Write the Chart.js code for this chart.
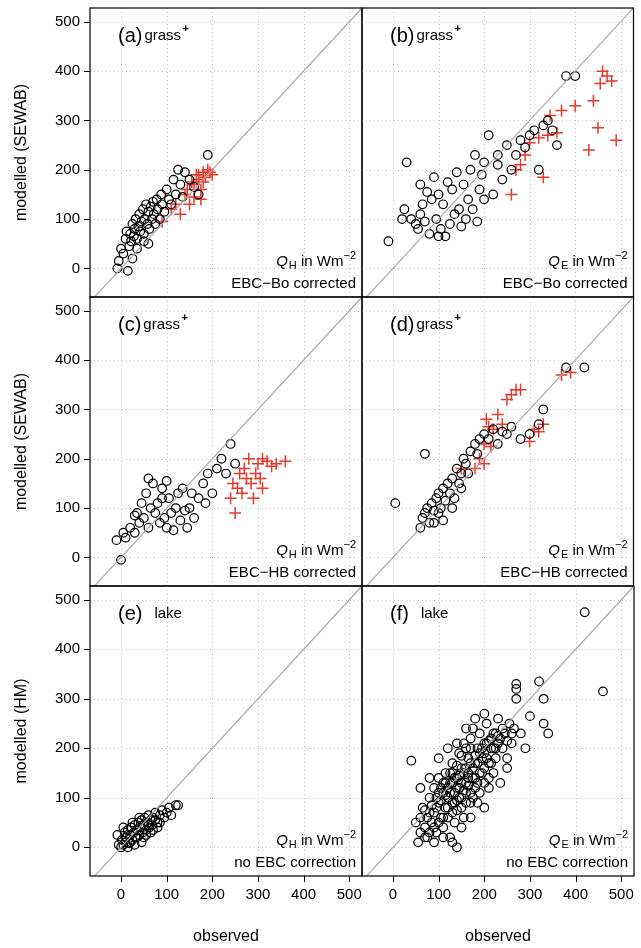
<!DOCTYPE html>
<html>
<head>
<meta charset="utf-8">
<script src="https://cdn.jsdelivr.net/npm/chart.js@4.4.1/dist/chart.umd.min.js"></script>
<style>
  body { margin: 0; background: #fff; }
  #wrap { position: relative; width: 641px; height: 948px; }
  canvas { position: absolute; left: 0; top: 0; }
</style>
</head>
<body>
<div id="wrap">
  <canvas id="pa"></canvas><canvas id="pb"></canvas>
  <canvas id="pc"></canvas><canvas id="pd"></canvas>
  <canvas id="pe"></canvas><canvas id="pf"></canvas>
</div>
<script>
// axis ticks
const tickValues = [0, 100, 200, 300, 400, 500];

// (a) grass+, QH, EBC-Bo
const aBlack = [[-5,15],[-8,0],[0,40],[5,30],[10,60],[12,75],[15,-5],[18,45],[20,70],[22,55],[25,90],[28,65],[30,80],[32,100],[35,60],[38,85],[40,110],[42,75],[45,95],[48,120],[50,70],[52,100],[55,130],[58,90],[60,115],[62,80],[65,125],[68,100],[70,135],[72,110],[75,90],[78,140],[80,120],[85,100],[88,150],[90,130],[95,115],[100,160],[105,140],[110,130],[115,180],[120,150],[125,200],[130,170],[135,145],[140,195],[150,180],[160,165],[170,150],[190,230],[60,50],[50,55],[35,40],[25,20]];
const aRed = [[90,95],[110,120],[120,130],[130,110],[140,150],[145,160],[150,130],[155,175],[160,145],[165,190],[170,180],[175,160],[180,195],[185,185],[190,200],[195,195],[200,190],[175,140],[160,170],[180,175],[170,190]];

// (b) grass+, QE, EBC-Bo
const bBlack = [[-10,55],[20,100],[25,120],[30,215],[40,100],[50,90],[55,80],[60,110],[65,130],[70,95],[75,155],[80,70],[85,140],[90,185],[95,100],[100,150],[105,80],[110,130],[115,65],[120,175],[125,90],[130,160],[135,110],[140,195],[145,120],[150,85],[155,170],[160,100],[165,140],[170,200],[175,120],[180,230],[185,95],[190,160],[195,190],[200,140],[210,270],[220,150],[230,210],[240,180],[250,250],[260,200],[270,230],[280,260],[290,245],[300,270],[310,280],[320,200],[330,290],[340,300],[350,280],[360,250],[380,390],[400,390],[230,230],[200,215],[100,65],[60,170]];
const bRed = [[260,150],[270,200],[280,210],[290,230],[300,255],[320,265],[330,185],[340,270],[345,310],[360,275],[370,320],[400,330],[430,240],[440,340],[450,285],[455,375],[470,390],[480,380],[490,260],[460,400]];

// (c) grass+, QH, EBC-HB
const cBlack = [[-10,35],[0,-5],[5,50],[10,40],[20,60],[30,50],[35,90],[40,70],[45,110],[50,80],[55,130],[60,60],[65,100],[70,150],[75,90],[80,110],[85,70],[90,140],[95,80],[100,60],[105,120],[110,90],[115,55],[120,100],[125,130],[130,75],[135,140],[140,95],[145,60],[150,100],[155,130],[160,80],[170,120],[180,150],[185,110],[190,170],[200,130],[210,180],[220,200],[230,170],[240,230],[250,190],[60,160],[100,155],[30,85],[90,120]];
const cRed = [[240,120],[245,150],[250,90],[255,140],[260,170],[265,130],[270,180],[280,200],[285,150],[290,120],[300,190],[305,160],[310,140],[320,195],[330,185],[340,190],[360,195],[275,160],[295,170],[310,200]];

// (d) grass+, QE, EBC-HB
const dBlack = [[5,110],[60,60],[65,80],[70,90],[75,100],[80,70],[85,110],[90,95],[95,120],[100,130],[105,100],[110,140],[115,115],[120,150],[125,130],[130,160],[135,120],[140,180],[145,150],[150,170],[155,200],[160,190],[170,215],[180,230],[190,240],[200,250],[210,240],[220,260],[230,230],[240,255],[260,265],[280,240],[300,250],[320,270],[330,300],[380,385],[420,385],[70,210],[110,75],[130,100],[100,90],[150,140],[165,170],[185,210],[250,250],[90,70]];
const dRed = [[150,180],[180,180],[190,200],[200,190],[205,280],[210,265],[220,260],[230,290],[240,270],[250,320],[260,330],[270,340],[280,340],[300,235],[310,260],[320,255],[330,270],[370,370],[390,375],[200,230],[215,225]];

// (e) lake, QH
const eBlack = [[-5,5],[-8,25],[0,0],[2,15],[5,5],[8,30],[10,10],[12,20],[15,35],[18,8],[20,25],[22,40],[25,15],[28,30],[30,45],[32,20],[35,35],[38,50],[40,25],[42,40],[45,55],[48,30],[50,45],[52,60],[55,35],[58,50],[60,65],[62,40],[65,55],[68,45],[70,60],[75,70],[80,50],[85,65],[90,75],[95,60],[100,70],[105,80],[110,65],[120,85],[125,85],[15,0],[30,5],[45,10],[25,50],[50,20],[65,30],[80,40],[5,40],[10,20],[20,10],[35,20],[55,25],[70,35],[85,50],[40,60],[60,45],[75,55]];

// (f) lake, QE
const fBlack = [[420,475],[460,315],[320,335],[330,300],[270,330],[270,320],[300,265],[340,230],[330,250],[250,180],[40,175],[140,0],[50,50],[60,30],[65,80],[70,40],[75,60],[80,100],[85,50],[90,120],[90,70],[95,30],[100,90],[100,140],[105,60],[110,110],[110,40],[115,150],[115,80],[120,100],[120,60],[125,130],[125,20],[130,170],[130,90],[135,110],[135,50],[140,140],[140,75],[145,190],[145,120],[150,100],[150,160],[155,60],[155,210],[160,130],[160,90],[165,180],[165,150],[170,110],[170,200],[175,140],[175,240],[180,170],[180,120],[185,200],[185,90],[190,150],[190,230],[195,180],[200,130],[200,210],[205,250],[210,170],[210,120],[215,200],[220,230],[220,150],[225,180],[230,260],[230,210],[235,130],[240,200],[245,230],[250,160],[255,250],[260,210],[265,240],[270,300],[280,230],[290,200],[120,200],[100,180],[80,140],[60,120],[110,20],[130,10],[170,60],[200,80],[150,40],[90,10],[75,20],[55,10],[180,260],[200,270],[160,240],[140,210],
  [60,60],[70,75],[80,70],[85,85],[95,80],[100,110],[105,95],[110,130],[115,105],[120,120],[125,110],[130,130],[135,140],[140,120],[145,145],[150,130],[155,150],[160,160],[165,140],[170,170],[175,160],[180,185],[185,170],[190,190],[195,200],[200,190],[205,210],[210,215],[215,220],[220,200],[225,230],[230,225],[240,240],[120,80],[130,70],[140,95],[150,80],[160,110],[170,90],[180,140],[190,110],[200,160],[210,140],[110,60],[100,50],[90,40],[80,30],[70,20],[130,150],[140,165],[150,185],[160,200],[170,220],[95,100],[105,120],[115,130],[125,150],[135,90],[145,100],[155,115],[165,125],[175,100],[185,130],[195,150],[205,180],[215,170],[225,200],[235,220],[250,215],[260,230]];

const LEFT = [90, 362], RIGHT = [362, 634];
const ROWS = [[8, 297], [297, 586], [586, 876]];
const XMIN = -68, XMAX = 528, YMIN = -58, YMAX = 528;

const toPts = arr => arr.map(p => ({ x: p[0], y: p[1] }));

const deco = {
  id: 'deco',
  beforeDatasetsDraw(chart, args, o) {
    // dotted grid and outside tick marks, placed by the chart's scales
    const { ctx, chartArea: a, scales } = chart;
    ctx.save();
    ctx.lineWidth = 1;
    tickValues.forEach(v => {
      const px = Math.round(scales.x.getPixelForValue(v)) + 0.5;
      const py = Math.round(scales.y.getPixelForValue(v)) + 0.5;
      ctx.strokeStyle = '#c4c4c4'; ctx.setLineDash([1, 3]);
      ctx.beginPath();
      ctx.moveTo(px, a.top); ctx.lineTo(px, a.bottom);
      ctx.moveTo(a.left, py); ctx.lineTo(a.right, py);
      ctx.stroke();
      ctx.setLineDash([]); ctx.strokeStyle = '#000';
      ctx.beginPath();
      if (o.showX) { ctx.moveTo(px, a.bottom); ctx.lineTo(px, a.bottom + 6); }
      if (o.showY) { ctx.moveTo(a.left, py); ctx.lineTo(a.left - 6, py); }
      ctx.stroke();
    });
    ctx.restore();
  },
  afterDatasetsDraw(chart, args, o) {
    const { ctx, chartArea: a } = chart;
    ctx.save();
    ctx.strokeStyle = '#000'; ctx.lineWidth = 1.2;
    ctx.strokeRect(a.left, a.top, a.right - a.left, a.bottom - a.top);
    ctx.fillStyle = '#000'; ctx.textBaseline = 'alphabetic';
    ctx.font = '20px "Liberation Sans", Arial, sans-serif';
    ctx.textAlign = 'left';
    ctx.fillText(o.tag, a.left + 28, a.top + 34);
    const w = ctx.measureText(o.tag).width;
    ctx.font = '15px "Liberation Sans", Arial, sans-serif';
    ctx.fillText(o.site, a.left + 28 + w + (o.site === 'lake' ? 12 : 2), a.top + 32);
    if (o.site !== 'lake') {
      ctx.font = 'bold 11px "Liberation Sans", Arial, sans-serif';
      ctx.fillText('+', a.left + 28 + w + 2 + ctx.measureText('grass').width * 1.3, a.top + 24);
    }
    // bottom-right annotation
    ctx.textAlign = 'right';
    ctx.font = '15px "Liberation Sans", Arial, sans-serif';
    const r = a.right - 6, y1 = a.bottom - 31, y2 = a.bottom - 9;
    ctx.fillText(o.corr, r, y2);
    const s = ' in Wm';
    const sup = '\u22122';
    ctx.font = '11px "Liberation Sans", Arial, sans-serif';
    const wSup = ctx.measureText(sup).width;
    ctx.fillText(sup, r, y1 - 7);
    ctx.font = '15px "Liberation Sans", Arial, sans-serif';
    const wIn = ctx.measureText(s).width;
    ctx.fillText(s, r - wSup, y1);
    ctx.font = '11px "Liberation Sans", Arial, sans-serif';
    const wSub = ctx.measureText(o.sub).width;
    ctx.fillText(o.sub, r - wSup - wIn, y1 + 3);
    ctx.font = 'italic 15px "Liberation Sans", Arial, sans-serif';
    ctx.fillText('Q', r - wSup - wIn - wSub - 1, y1);
    ctx.restore();
  }
};

function noPad(s) {
  s.paddingTop = 0; s.paddingBottom = 0; s.paddingLeft = 0; s.paddingRight = 0;
}

function makePanel(id, col, row, black, red, o) {
  const [l, r] = col === 0 ? LEFT : RIGHT;
  const [t, b] = ROWS[row];
  const showY = col === 0, showX = row === 2;
  o.showX = showX; o.showY = showY;
  const yW = 82, xH = 70;
  const datasets = [
    { type: 'line', data: [{ x: -100, y: -100 }, { x: 600, y: 600 }], borderColor: '#aaa', borderWidth: 1.2, pointRadius: 0 },
    { data: toPts(black), pointStyle: 'circle', pointRadius: 4.3, borderColor: '#000', borderWidth: 1.2, backgroundColor: 'rgba(0,0,0,0)' }
  ];
  if (red) datasets.push({ data: toPts(red), pointStyle: 'cross', pointRadius: 6, borderColor: '#e8392b', borderWidth: 1.5 });
  const grid = { display: false, drawTicks: false, tickLength: 0 };
  const tickFont = { family: '"Liberation Sans", Arial, sans-serif', size: 15 };
  const titleFont = { family: '"Liberation Sans", Arial, sans-serif', size: 16 };
  new Chart(document.getElementById(id), {
    type: 'scatter',
    data: { datasets },
    options: {
      responsive: false, animation: false, clip: true,
      layout: { padding: { left: l - (showY ? yW : 0), right: 641 - r, top: t, bottom: 948 - b - (showX ? xH : 0) } },
      plugins: { legend: { display: false }, tooltip: { enabled: false }, deco: o },
      scales: {
        x: {
          min: XMIN, max: XMAX,
          afterBuildTicks: s => { s.ticks = tickValues.map(v => ({ value: v })); },
          afterFit: s => { s.height = showX ? xH : 0; noPad(s); },
          grid: grid,
          border: { display: false },
          ticks: { display: showX, autoSkip: false, color: '#000', font: tickFont, maxRotation: 0, padding: 10 },
          title: { display: showX, text: 'observed', color: '#000', font: titleFont, padding: { top: 6, bottom: 0 } }
        },
        y: {
          min: YMIN, max: YMAX,
          afterBuildTicks: s => { s.ticks = tickValues.map(v => ({ value: v })); },
          afterFit: s => { s.width = showY ? yW : 0; noPad(s); },
          grid: grid,
          border: { display: false },
          ticks: { display: showY, autoSkip: false, color: '#000', font: tickFont, padding: 10 },
          title: { display: showY, text: o.ytitle, color: '#000', font: titleFont, padding: { bottom: 4 } }
        }
      }
    },
    plugins: [deco]
  });
}

document.querySelectorAll('canvas').forEach(c => { c.width = 641; c.height = 948; });

makePanel('pa', 0, 0, aBlack, aRed, { tag: '(a)', site: 'grass', sub: 'H', corr: 'EBC\u2212Bo corrected', ytitle: 'modelled (SEWAB)' });
makePanel('pb', 1, 0, bBlack, bRed, { tag: '(b)', site: 'grass', sub: 'E', corr: 'EBC\u2212Bo corrected', ytitle: '' });
makePanel('pc', 0, 1, cBlack, cRed, { tag: '(c)', site: 'grass', sub: 'H', corr: 'EBC\u2212HB corrected', ytitle: 'modelled (SEWAB)' });
makePanel('pd', 1, 1, dBlack, dRed, { tag: '(d)', site: 'grass', sub: 'E', corr: 'EBC\u2212HB corrected', ytitle: '' });
makePanel('pe', 0, 2, eBlack, null, { tag: '(e)', site: 'lake', sub: 'H', corr: 'no EBC correction', ytitle: 'modelled (HM)' });
makePanel('pf', 1, 2, fBlack, null, { tag: '(f)', site: 'lake', sub: 'E', corr: 'no EBC correction', ytitle: '' });
</script>
</body>
</html>
